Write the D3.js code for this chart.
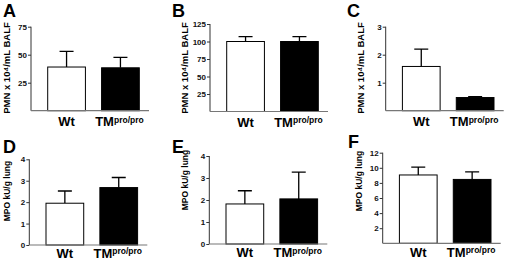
<!DOCTYPE html>
<html>
<head>
<meta charset="utf-8">
<script src="https://cdn.jsdelivr.net/npm/d3@7"></script>
<style>
  body { margin: 0; background: #fff; }
  svg { display: block; font-family: "Liberation Sans", Arial, sans-serif; }
</style>
</head>
<body>
<div id="chart"></div>
<script>
const panels = ["A", "B", "C", "D", "E", "F"];
const groups = ["Wt", "TM"];
const wtMean = [39, 100, 1.58, 1.95, 1.82, 9.05];
const wtErr  = [14, 7, 0.62, 0.57, 0.6, 1.05];
const tmMean = [38.3, 100, 0.47, 2.68, 2.05, 8.46];
const tmErr  = [9.4, 7, 0.03, 0.47, 1.22, 1.0];
const yMax = [75, 125, 3, 4, 4, 12];
const yTicks = [
  [25, 50, 75],
  [25, 50, 75, 100, 125],
  [1, 2, 3],
  [0, 1, 2, 3, 4],
  [0, 1, 2, 3, 4],
  [2, 4, 6, 8, 10, 12]
];
const yLabels = ["PMN x 10⁴/mL BALF", "PMN x 10⁴/mL BALF", "PMN x 10⁴/mL BALF",
                 "MPO kU/g lung", "MPO kU/g lung", "MPO kU/g lung"];

// layout for each panel (pixel frame of the axes)
const frames = [
  {x: 31,    top: 26.7, base: 110.7, lab: 68,  lx: 9.5,  letterX: 3,   letterY: 17,  xl: 15.5, ls: 9.5},
  {x: 210,   top: 24,   base: 111.5, lab: 68,  lx: 188,  letterX: 172, letterY: 17,  xl: 15,   ls: 9.5},
  {x: 385.7, top: 26.7, base: 110.7, lab: 68,  lx: 363.5, letterX: 347, letterY: 17, xl: 15.5, ls: 9.5},
  {x: 29.3,  top: 159.3, base: 245,  lab: 191, lx: 10,   letterX: 3,   letterY: 153, xl: 12.5, ls: 8.5},
  {x: 209.3, top: 156,  base: 244,   lab: 180, lx: 188,  letterX: 172, letterY: 153, xl: 13,   ls: 8.5},
  {x: 382.7, top: 152.7, base: 243.3, lab: 181, lx: 362, letterX: 348, letterY: 148, xl: 13.5, ls: 8.5}
];

const svg = d3.select("#chart").append("svg")
  .attr("width", 520)
  .attr("height", 260);

panels.forEach((p, i) => {
  const f = frames[i];
  const g = svg.append("g");

  const x = d3.scaleBand()
    .domain(groups)
    .range([f.x, f.x + 125])
    .paddingInner(0.3)
    .paddingOuter(0.31);

  const y = d3.scaleLinear()
    .domain([0, yMax[i]])
    .range([f.base, f.top]);

  const data = [
    {g: "Wt", v: wtMean[i], e: wtErr[i], fill: "#fff"},
    {g: "TM", v: tmMean[i], e: tmErr[i], fill: "#000"}
  ];

  // error bars (upper whisker only)
  g.selectAll(".err")
    .data(data)
    .enter()
    .append("path")
    .attr("d", d => {
      const cx = x(d.g) + x.bandwidth() / 2;
      return `M${cx},${y(d.v)}V${y(d.v + d.e)}M${cx - 7},${y(d.v + d.e)}H${cx + 7}`;
    })
    .attr("stroke", "#000")
    .attr("stroke-width", 1.3)
    .attr("fill", "none");

  g.selectAll(".bar")
    .data(data)
    .enter()
    .append("rect")
    .attr("x", d => x(d.g))
    .attr("y", d => y(d.v))
    .attr("width", x.bandwidth())
    .attr("height", d => f.base - y(d.v))
    .attr("fill", d => d.fill)
    .attr("stroke", "#000")
    .attr("stroke-width", 1);

  // y axis
  const yAxis = d3.axisLeft(y)
    .tickValues(yTicks[i])
    .tickSize(3)
    .tickPadding(1)
    .tickFormat(d3.format("d"));
  const ya = g.append("g")
    .attr("transform", `translate(${f.x},0)`)
    .call(yAxis);
  ya.select(".domain").remove();
  ya.append("line")
    .attr("x1", 0).attr("x2", 0)
    .attr("y1", y(yMax[i]))
    .attr("y2", f.base)
    .attr("stroke", "#333");
  ya.selectAll("text")
    .attr("font-size", 8)
    .attr("font-weight", "bold")
    .attr("font-family", "Liberation Sans, Arial, sans-serif")
    .attr("fill", "#111");
  ya.selectAll(".tick line").attr("stroke", "#333");

  // x axis line
  g.append("line")
    .attr("x1", f.x).attr("x2", f.x + 118)
    .attr("y1", f.base).attr("y2", f.base)
    .attr("stroke", "#777")
    .attr("stroke-width", 1.2);

  // x labels
  g.append("text")
    .attr("x", x("Wt") + x.bandwidth() / 2)
    .attr("y", f.base + f.xl)
    .attr("text-anchor", "middle")
    .attr("font-size", 13)
    .attr("font-weight", "bold")
    .text("Wt");

  const tm = g.append("text")
    .attr("x", x("TM") + x.bandwidth() / 2 - 1)
    .attr("y", f.base + f.xl)
    .attr("text-anchor", "middle")
    .attr("font-size", 13)
    .attr("font-weight", "bold");
  tm.append("tspan").text("TM");
  tm.append("tspan")
    .attr("dy", -3.5)
    .attr("font-size", 8.5)
    .text("pro/pro");

  // y label
  g.append("text")
    .attr("transform", `translate(${f.lx},${f.lab}) rotate(-90)`)
    .attr("text-anchor", "middle")
    .attr("font-size", f.ls)
    .attr("font-weight", "bold")
    .text(yLabels[i]);

  // panel letter
  g.append("text")
    .attr("x", f.letterX)
    .attr("y", f.letterY)
    .attr("font-size", 18)
    .attr("font-weight", "bold")
    .text(p);
});
</script>
</body>
</html>
